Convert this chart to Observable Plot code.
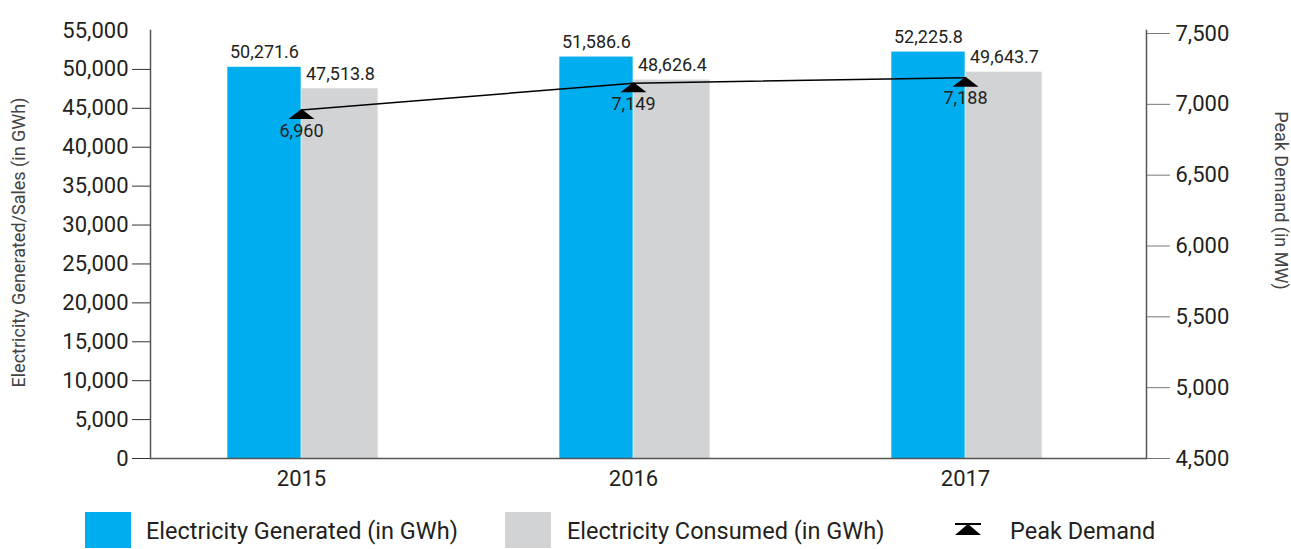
<!DOCTYPE html>
<html><head><meta charset="utf-8">
<script src="https://cdn.jsdelivr.net/npm/d3@7"></script>
<script src="https://cdn.jsdelivr.net/npm/@observablehq/plot@0.6"></script>
<style>
body{margin:0;background:#fff;font-family:Roboto,"Noto Sans",sans-serif;color:#231f20;}
#legend{position:relative;height:49px;width:1291px;}
.sw{position:absolute;top:12px;width:46px;height:36px;}
.lt{position:absolute;top:17px;font-size:23.5px;line-height:28px;white-space:nowrap;}
</style></head><body>
<div id="chart"></div>
<div id="legend">
  <div class="sw" style="left:85px;background:#00AEEF"></div>
  <div class="lt" style="left:146px">Electricity Generated (in GWh)</div>
  <div class="sw" style="left:505px;background:#D1D3D4"></div>
  <div class="lt" style="left:567px">Electricity Consumed (in GWh)</div>
  <svg style="position:absolute;left:954px;top:23px" width="28" height="14"><path d="M14,1L27,12L1,12Z" fill="#000"/><line x1="1" y1="1" x2="27" y2="1" stroke="#000" stroke-width="2"/></svg>
  <div class="lt" style="left:1010px">Peak Demand</div>
</div>
<script>
const years = ["2015", "2016", "2017"];
const generated = [50271.6, 51586.6, 52225.8];
const consumed = [47513.8, 48626.4, 49643.7];
const peakDemand = [6960, 7149, 7188];
const leftTicks = [0, 5000, 10000, 15000, 20000, 25000, 30000, 35000, 40000, 45000, 50000, 55000];
const rightTicks = [4500, 5000, 5500, 6000, 6500, 7000, 7500];
const leftLabel = "Electricity Generated/Sales (in GWh)";
const rightLabel = "Peak Demand (in MW)";

const rows = years.map((year, i) => ({year, generated: generated[i], consumed: consumed[i], peak: peakDemand[i]}));
const k = 55000 / 3000 * (458 - 33) / (458 - 30);
const toLeft = v => (v - 4500) * k;
const fromLeft = v => v / k + 4500;
const fmt = d3.format(",");
const fmt1 = d3.format(",.1f");

const xr = [134, 1132];
const bw = (xr[1] - xr[0]) / years.length;
const half = bw / 2;

const flatTri = {
  draw(ctx) {
    ctx.moveTo(0, -1);
    ctx.lineTo(13, 9);
    ctx.lineTo(-13, 9);
    ctx.closePath();
  }
};

const chart = Plot.plot({
  width: 1291, height: 500,
  marginLeft: 150, marginRight: 145, marginTop: 30, marginBottom: 42,
  x: {domain: years, range: xr, padding: 0, axis: null},
  y: {domain: [0, 55000], axis: null},
  style: {fontFamily: "Roboto, 'Noto Sans', sans-serif", color: "#231f20", background: "#fff", overflow: "visible"},
  marks: [
    Plot.barY(rows, {x: "year", y: "generated", fill: "#00AEEF", insetLeft: half - 74, insetRight: half}),
    Plot.barY(rows, {x: "year", y: "consumed", fill: "#D1D3D4", insetLeft: half, insetRight: half - 77}),
    Plot.text(rows, {x: "year", y: "generated", text: d => fmt1(d.generated), dx: -37, dy: -15, fontSize: 18, lineAnchor: "middle"}),
    Plot.text(rows, {x: "year", y: "consumed", text: d => fmt1(d.consumed), dx: 39, dy: -15, fontSize: 18, lineAnchor: "middle"}),
    Plot.line(rows, {x: "year", y: d => toLeft(d.peak), stroke: "#000", strokeWidth: 1.5}),
    Plot.dot(rows, {x: "year", y: d => toLeft(d.peak), symbol: flatTri, fill: "#000", stroke: null, r: 5}),
    Plot.text(rows, {x: "year", y: d => toLeft(d.peak), text: d => fmt(d.peak), dy: 21, fontSize: 18, lineAnchor: "middle"}),
    Plot.frame({anchor: "left", stroke: "#555", strokeWidth: 1.5}),
    Plot.frame({anchor: "right", stroke: "#555", strokeWidth: 1.5}),
    Plot.ruleY([0], {stroke: "#555", strokeWidth: 1.5}),
    Plot.axisY({ticks: leftTicks.slice(0, -1), tickFormat: fmt, anchor: "left", tickSize: 18, tickPadding: 4, fontSize: 22, stroke: "#333", label: null}),
    Plot.axisY({ticks: [55000], tickFormat: fmt, anchor: "left", tickSize: 0, tickPadding: 22, fontSize: 22, label: null}),
    Plot.axisY({ticks: rightTicks.map(toLeft), tickFormat: d => fmt(Math.round(fromLeft(d))), anchor: "right", tickSize: 23, tickPadding: 6, fontSize: 22, stroke: "#777", label: null}),
    Plot.axisX({tickSize: 0, tickPadding: 12, fontSize: 22, label: null}),
    Plot.text([leftLabel], {frameAnchor: "left", textAnchor: "middle", dx: -131, dy: -2, rotate: -90, fontSize: 18, fill: "#444"}),
    Plot.text([rightLabel], {frameAnchor: "right", textAnchor: "middle", dx: 134, dy: -44, rotate: 90, fontSize: 18, fill: "#444"})
  ]
});
document.getElementById("chart").appendChild(chart);
</script>
</body></html>
